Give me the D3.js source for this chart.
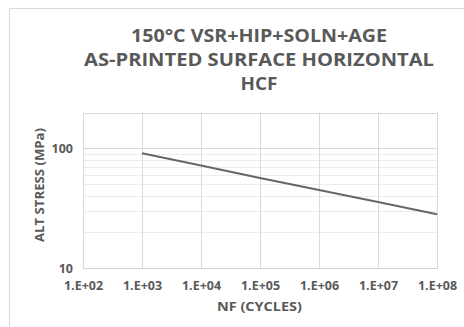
<!DOCTYPE html>
<html><head><meta charset="utf-8">
<script src="https://cdn.jsdelivr.net/npm/d3@7"></script>
<style>
html,body{margin:0;padding:0;background:#fff;}
svg{display:block;}
text{font-family:"Open Sans",sans-serif;fill:#595959;font-weight:bold;}
</style></head>
<body><svg id="c" width="464" height="327"></svg>
<script>
const titleLines = ["150°C VSR+HIP+SOLN+AGE", "AS-PRINTED SURFACE HORIZONTAL", "HCF"];
const xTickValues = [1e2, 1e3, 1e4, 1e5, 1e6, 1e7, 1e8];
const xTickLabels = ["1.E+02","1.E+03","1.E+04","1.E+05","1.E+06","1.E+07","1.E+08"];
const yMajorTicks = [10, 100];
const yMinorTicks = [20, 30, 40, 50, 60, 70, 80, 90];
const cycles = [1e3, 1e4, 1e5, 1e6, 1e7, 1e8];
const stress = [91.4, 72.1, 56.6, 44.9, 35.7, 28.2];
const xTitle = "NF (CYCLES)";
const yTitle = "ALT STRESS (MPa)";

const svg = d3.select("#c");
svg.append("rect").attr("x",9.5).attr("y",8.5).attr("width",470).attr("height",340)
  .attr("fill","#fff").attr("stroke","#d9d9d9");

const L=83, R=437, T=112.5, B=268;
const x = d3.scaleLog().domain([1e2,1e8]).range([L,R]);
const y = d3.scaleLog().domain([10,200]).range([B,T]);

const g = svg.append("g");
g.selectAll(".ymin").data(yMinorTicks).join("line")
  .attr("x1",L).attr("x2",R).attr("y1",d=>Math.round(y(d))+0.5).attr("y2",d=>Math.round(y(d))+0.5)
  .attr("stroke","#ececec").attr("stroke-width",1);
g.selectAll(".ymaj").data([100,200]).join("line")
  .attr("x1",L).attr("x2",R).attr("y1",d=>Math.round(y(d))+0.5).attr("y2",d=>Math.round(y(d))+0.5)
  .attr("stroke","#d9d9d9").attr("stroke-width",1);
g.selectAll(".xg").data(xTickValues).join("line")
  .attr("x1",d=>Math.round(x(d))+0.5).attr("x2",d=>Math.round(x(d))+0.5).attr("y1",T).attr("y2",B)
  .attr("stroke","#d9d9d9").attr("stroke-width",1);
g.append("line").attr("x1",L).attr("x2",R+1).attr("y1",B+0.5).attr("y2",B+0.5).attr("stroke","#d0d0d0");

const xAxis = d3.axisBottom(x).tickValues(xTickValues).tickFormat((d,i)=>xTickLabels[i]).tickSize(0).tickPadding(0);
const xa = svg.append("g").attr("transform",`translate(0,${B})`).call(xAxis);
xa.select(".domain").remove();
xa.selectAll("text").attr("dy",null).attr("y",22).attr("font-size",12.5).attr("fill","#595959")
  .attr("textLength",39).attr("lengthAdjust","spacingAndGlyphs")
  .style("font-family","'Open Sans',sans-serif").style("font-weight","bold");

const yAxis = d3.axisLeft(y).tickValues(yMajorTicks).tickFormat(d3.format("d")).tickSize(0).tickPadding(0);
const ya = svg.append("g").attr("transform",`translate(${L-10},0)`).call(yAxis);
ya.select(".domain").remove();
ya.selectAll("text").attr("dy","0.35em").attr("x",0).attr("font-size",12.5).attr("fill","#595959")
  .style("font-family","'Open Sans',sans-serif").style("font-weight","bold");

const pts = cycles.map((c,i)=>[c,stress[i]]);
svg.append("path").datum(pts)
  .attr("d", d3.line().x(d=>x(d[0])).y(d=>y(d[1])))
  .attr("fill","none").attr("stroke","#666").attr("stroke-width",2);

const titleW = [256, 350, 37];
const titleY = [42, 66, 90];
titleLines.forEach((t,i)=>{
  svg.append("text").attr("x",259).attr("y",titleY[i]).attr("text-anchor","middle").attr("font-size",18)
    .attr("textLength",titleW[i]).attr("lengthAdjust","spacingAndGlyphs").text(t);
});
svg.append("text").attr("x",259.5).attr("y",311).attr("text-anchor","middle").attr("font-size",13)
  .attr("textLength",85).attr("lengthAdjust","spacingAndGlyphs").text(xTitle);
svg.append("text").attr("transform","translate(44,185) rotate(-90)").attr("text-anchor","middle").attr("font-size",13)
  .attr("textLength",114).attr("lengthAdjust","spacingAndGlyphs").text(yTitle);
</script></body></html>
